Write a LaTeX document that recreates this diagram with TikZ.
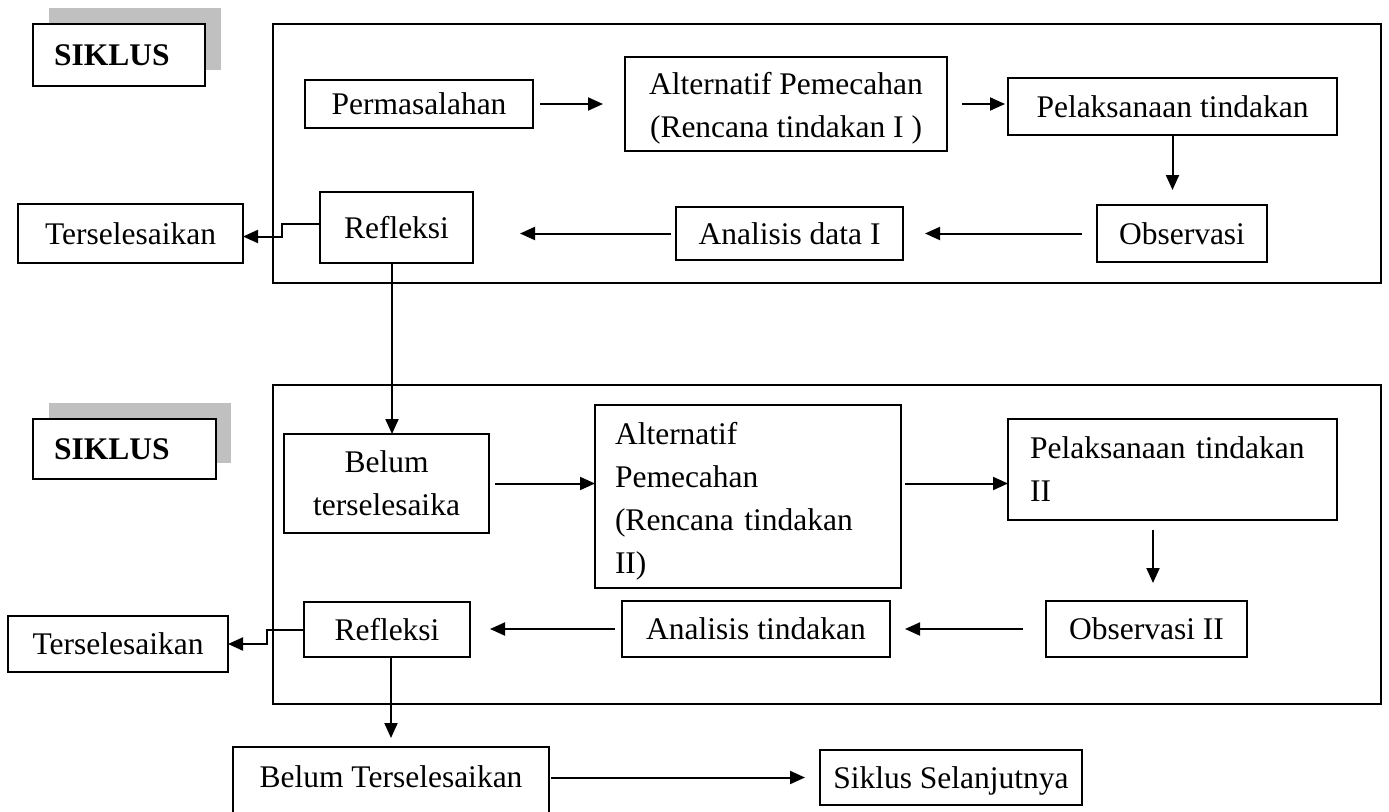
\documentclass[tikz,border=0pt]{standalone}
\usepackage{fontspec}
\setmainfont{Liberation Serif}
\usetikzlibrary{arrows.meta}
\definecolor{shadowgray}{RGB}{192,192,192}
\newcommand\bx[7]{\node[box,anchor=north west,minimum width={(#4-#2)*1pt},minimum height={(#5-#3)*1pt},#6] (#1) at (#2,#3) {#7};}
\begin{document}
\begin{tikzpicture}[x=1pt,y=-1pt,
  box/.style={draw, line width=2pt, rectangle, fill=white, inner sep=0pt, outer sep=0pt,
    font=\fontsize{31.5}{43}\selectfont, align=center},
  arr/.style={line width=2pt, -{Triangle[length=15pt,width=13pt]}},
  frm/.style={draw, line width=2pt, rectangle, inner sep=0pt, outer sep=0pt}]
\useasboundingbox (0,0) rectangle (1389,811);
\clip (0,0) rectangle (1389,811);

% cycle frames
\node[frm,anchor=north west,minimum width=1108pt,minimum height=259pt] (frame1) at (273,24) {};
\node[frm,anchor=north west,minimum width=1108pt,minimum height=319pt] (frame2) at (273,385) {};

% SIKLUS labels with shadows
\fill[shadowgray] (49,8) rectangle (221,70);
\bx{siklus1}{33}{24}{205}{86}{text width=130pt,align=left,font=\fontsize{31.5}{43}\selectfont\bfseries}{SIKLUS}
\fill[shadowgray] (49,403) rectangle (231,463);
\bx{siklus2}{33}{419}{216}{479}{text width=141pt,align=left,font=\fontsize{31.5}{43}\selectfont\bfseries}{SIKLUS}

% cycle I
\bx{perm}{305}{80}{533}{128}{}{Permasalahan}
\bx{alt1}{625}{57}{947}{151}{}{\rule{0pt}{31pt}Alternatif Pemecahan\\(Rencana tindakan I )}
\bx{pel1}{1008}{78}{1337}{135}{}{Pelaksanaan tindakan}
\bx{obs1}{1097}{205}{1267}{262}{}{Observasi}
\bx{ana1}{676}{207}{903}{260}{}{Analisis data I}
\bx{ref1}{320}{192}{473}{263}{}{Refleksi}
\bx{ters1}{18}{204}{243}{263}{}{Terselesaikan}

% cycle II
\bx{belum1}{284}{434}{489}{533}{}{Belum\\terselesaika}
\bx{alt2}{595}{405}{901}{588}{text width=266pt,align=left}{\rule{0pt}{32pt}Alternatif\\Pemecahan\\(Rencana tindakan\\II)}
\bx{pel2}{1008}{419}{1337}{520}{text width=285pt,align=left}{Pelaksanaan tindakan\\II}
\bx{obs2}{1046}{601}{1247}{657}{}{Observasi II}
\bx{ana2}{622}{601}{890}{657}{}{Analisis tindakan}
\bx{ref2}{304}{602}{470}{657}{}{Refleksi}
\bx{ters2}{8}{616}{228}{672}{}{Terselesaikan}

% after cycle II
\node[box,anchor=north west,minimum width=316pt,text height=40pt,text depth=50pt] (belumT) at (233,747) {Belum Terselesaikan};
\node[box,anchor=north west,minimum width=262pt,text height=38pt,text depth=17pt] (siklusS) at (820,750) {Siklus Selanjutnya};

% connectors cycle I
\draw[arr] ([xshift=7pt]perm.east) -- ([xshift=-22pt]alt1.west |- perm.east);
\draw[arr] ([xshift=15pt]alt1.east) -- ([xshift=-3pt]pel1.west |- alt1.east);
\draw[arr] (pel1.south) -- ([yshift=15pt]pel1.south |- obs1.north);
\draw[arr] ([xshift=-15pt]obs1.west) -- ([xshift=22pt]ana1.east |- obs1.west);
\draw[arr] ([xshift=-5pt]ana1.west) -- ([xshift=47pt]ref1.east |- ana1.west);
\draw[arr] ([yshift=4pt]ref1.west) -- ++(-38,0) |- ([yshift=-3pt]ters1.east);
\draw[arr] ([xshift=-4.5pt]ref1.south) -- ([xshift=-4.5pt]ref1.south |- belum1.north);

% connectors cycle II
\draw[arr] ([xshift=6pt]belum1.east) -- (alt2.west |- belum1.east);
\draw[arr] ([xshift=4pt]alt2.east |- belum1.east) -- (pel2.west |- belum1.east);
\draw[arr] ([xshift=6.5pt,yshift=-10pt]obs2.north |- pel2.south) -- ([xshift=6.5pt,yshift=18pt]obs2.north);
\draw[arr] ([xshift=-23pt]obs2.west) -- ([xshift=15pt]ana2.east |- obs2.west);
\draw[arr] ([xshift=-7pt]ana2.west) -- ([xshift=20pt]ref2.east |- ana2.west);
\draw[arr] (ref2.west) -- ++(-37,0) |- (ters2.east);
\draw[arr] (ref2.south -| belumT.north) -- ([yshift=9pt]belumT.north);
\draw[arr] ([xshift=2pt]belumT.east |- siklusS.west) -- ([xshift=-15pt]siklusS.west);
\end{tikzpicture}
\end{document}
